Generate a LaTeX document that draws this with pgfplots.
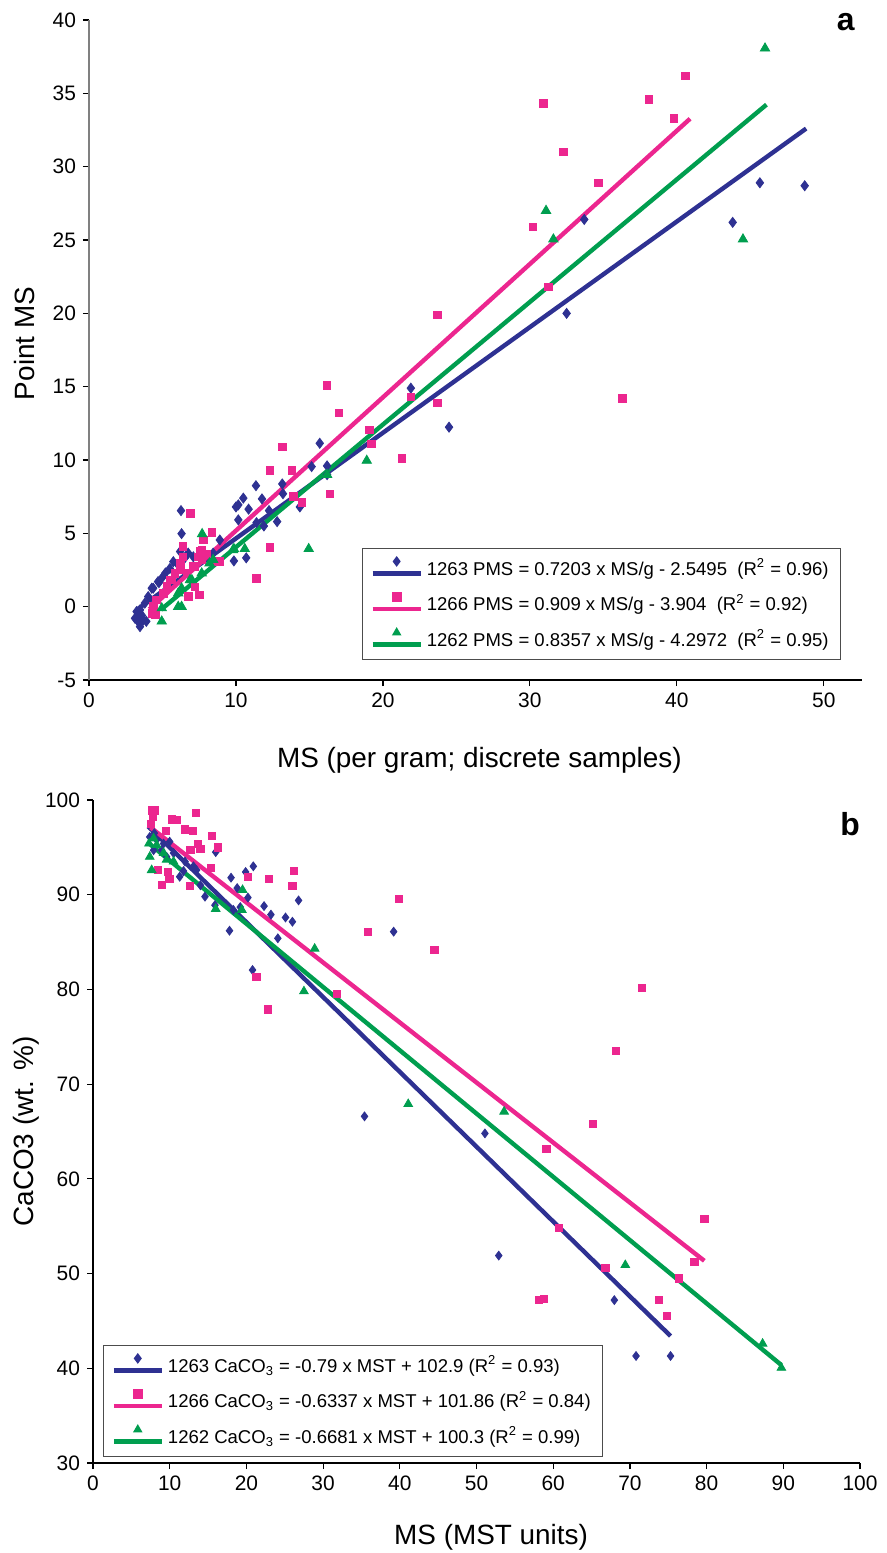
\documentclass[border=0pt]{standalone}
\usepackage{fontspec}
\setmainfont{Liberation Sans}
\usepackage{pgfplots}
\pgfplotsset{compat=1.18}
\definecolor{c1263}{RGB}{46,49,146}
\definecolor{c1266}{RGB}{236,38,143}
\definecolor{c1262}{RGB}{0,158,79}

\pgfplotsset{
  excel/.style={
    scale only axis,
    axis lines=left,
    axis line style={-, black, line width=0.6bp},
    tick align=outside,
    major tick length=3bp,
    tick style={black, line width=0.6bp},
    /pgf/number format/assume math mode=true,
    ticklabel style={font=\fontsize{10.5}{12}\selectfont},
    label style={font=\fontsize{14}{16}\selectfont},
    legend cell align=left,
    legend style={font=\fontsize{9.3}{11}\selectfont, draw=black!70, line width=0.6bp,
      inner xsep=4bp, inner ysep=3bp, row sep=4bp, anchor=north west},
    clip=false,
  },
  lgd/.style n args={2}{legend image code/.code={
      \draw[#1, line width=2.2bp] (0bp,-2.5bp) -- (24bp,-2.5bp);
      \draw[#1] plot[only marks, mark=#2, mark size=2.2bp] coordinates {(12bp,3.5bp)};
  }},
}

\begin{document}
\begin{tikzpicture}
\path[use as bounding box] (0,0) rectangle (443.5bp,-776.5bp);

% ---------------- panel a ----------------
\begin{axis}[excel, at={(44.5bp,-340bp)}, anchor=south west,
  width=386.5bp, height=330bp,
  xmin=0, xmax=52.6, ymin=-5, ymax=40,
  xtick={0,10,...,50}, ytick={-5,0,...,40},
  y axis line style={gray},
  xlabel={MS (per gram; discrete samples)}, ylabel={Point MS},
  xlabel style={at={(axis description cs:0.505,-0.121)}, anchor=center},
  ylabel style={at={(axis description cs:-0.083,0.51)}, anchor=center},
  legend style={at={(0.353,0.2)}},
]
\addplot[only marks, mark=diamond*, c1263, mark size=2.5bp, lgd={c1263}{diamond*}] table {
48.7 28.7
45.65 28.9
43.8 26.2
33.7 26.4
32.5 20.0
21.9 14.9
24.5 12.24
15.7 11.14
16.2 9.6
15.15 9.55
13.15 8.37
13.2 7.7
11.36 8.25
11.77 7.35
10.5 7.4
10.16 6.94
10.0 6.8
10.86 6.65
12.25 6.55
14.35 6.8
10.16 5.92
11.4 5.73
6.26 6.55
6.3 4.98
8.9 4.55
9.86 3.12
10.7 3.33
16.2 9.0
6.2 3.76
6.5 3.3
5.74 3.07
4.95 1.94
4.7 1.71
4.37 1.26
4.03 0.69
3.8 0.24
3.47 -0.22
3.35 -0.56
3.47 -1.13
3.13 -0.79
3.7 -0.9
3.24 -0.33
8.45 3.65
6.75 3.65
7.1 3.4
6.07 2.85
4.76 1.64
4.27 1.26
3.47 -0.45
3.24 -0.79
3.47 -1.36
3.35 -1.02
5.2 2.3
5.5 2.6
3.6 -0.6
3.9 -1.0
12.8 5.8
11.9 5.5
};
\addlegendentry{1263 PMS = 0.7203 x MS/g - 2.5495\ \ (R\textsuperscript{2} = 0.96)}
\addplot[only marks, mark=square*, c1266, mark size=1.9bp, lgd={c1266}{square*}] table {
40.6 36.2
30.9 34.3
38.1 34.6
39.8 33.3
32.3 31.0
34.65 28.9
30.2 25.9
31.25 21.8
23.7 19.9
16.2 15.07
36.3 14.2
17.0 13.2
21.9 14.3
23.7 13.9
19.1 12.05
19.2 11.1
21.3 10.1
13.15 10.9
12.3 9.3
13.8 9.3
16.4 7.7
14.5 7.1
13.9 7.5
6.9 6.35
12.3 4.05
11.4 1.94
8.35 5.05
7.8 4.55
6.4 4.1
7.55 3.76
7.67 3.2
7.2 2.73
6.65 2.28
6.2 2.5
5.85 2.28
5.5 1.82
5.3 1.37
5.05 0.92
4.6 0.46
4.37 0.0
4.27 -0.45
4.5 -0.56
6.75 0.69
7.5 0.8
8.7 3.07
6.4 3.4
8.0 3.6
5.63 1.82
6.2 2.96
7.44 3.4
7.67 3.87
7.1 2.73
7.2 1.36
8.9 3.07
};
\addlegendentry{1266 PMS = 0.909 x MS/g - 3.904\ \ (R\textsuperscript{2} = 0.92)}
\addplot[only marks, mark=triangle*, c1262, mark size=2.7bp, lgd={c1262}{triangle*}] table {
46.0 38.07
31.1 27.0
44.5 25.05
31.6 25.05
18.9 9.96
16.2 9.0
14.95 3.94
10.6 3.94
9.86 3.94
7.7 4.96
7.0 1.82
6.3 1.26
6.07 0.0
6.3 0.0
4.95 -1.0
4.95 -0.1
8.45 3.2
7.67 2.28
8.2 2.96
6.87 1.82
6.07 0.92
9.8 3.87
};
\addlegendentry{1262 PMS = 0.8357 x MS/g - 4.2972\ \ (R\textsuperscript{2} = 0.95)}
\addplot[c1263, line width=2.2bp, forget plot] coordinates {(3.3,-0.173) (48.8,32.60)};
\addplot[c1266, line width=2.2bp, forget plot] coordinates {(4.1,-0.177) (40.9,33.27)};
\addplot[c1262, line width=2.2bp, forget plot] coordinates {(4.9,-0.202) (46.1,34.23)};
\node[font=\fontsize{16}{18}\selectfont\bfseries] at (axis description cs:0.979,0.997) {a};
\end{axis}

% ---------------- panel b ----------------
\begin{axis}[excel, at={(46.5bp,-731.5bp)}, anchor=south west,
  width=383.5bp, height=331.5bp,
  xmin=0, xmax=100, ymin=30, ymax=100,
  xtick={0,10,...,100}, ytick={30,40,...,100},
  xlabel={MS (MST units)}, ylabel={CaCO3 (wt. \%)},
  xlabel style={at={(axis description cs:0.519,-0.112)}, anchor=center},
  ylabel style={at={(axis description cs:-0.087,0.5)}, anchor=center},
  legend style={at={(0.013,0.178)}},
]
\addplot[only marks, mark=diamond*, c1263, mark size=2.2bp, lgd={c1263}{diamond*}] table {
7.4 96.1
8.3 95.8
9.2 95.4
10.0 95.6
8.95 94.7
7.9 94.7
10.5 94.4
12.0 93.5
13.1 93.0
11.3 91.9
16.0 94.5
20.9 93.0
19.9 92.4
18.0 91.8
18.8 90.7
20.2 89.7
26.8 89.4
22.3 88.8
23.2 87.9
25.1 87.6
26.0 87.15
24.1 85.4
17.8 86.2
14.6 89.8
15.9 88.9
18.3 88.4
19.2 88.7
20.8 82.05
39.2 86.1
35.4 66.6
51.1 64.8
52.9 51.9
67.97 47.2
70.8 41.3
75.3 41.3
8.0 96.5
9.6 94.0
11.8 92.5
13.5 92.6
14.0 91.0
};
\addlegendentry{1263 CaCO\textsubscript{3} = -0.79 x MST + 102.9 (R\textsuperscript{2} = 0.93)}
\addplot[only marks, mark=square*, c1266, mark size=1.8bp, lgd={c1266}{square*}] table {
7.65 98.9
8.1 98.9
7.5 97.5
7.8 98.2
10.26 97.96
10.9 97.9
13.4 98.6
9.5 96.76
12.0 96.9
13.0 96.76
15.55 96.2
13.65 95.4
14.0 94.8
16.3 95.0
12.7 94.7
8.5 92.6
9.8 92.4
9.95 91.7
8.95 91.0
12.65 90.9
15.4 92.8
20.2 91.9
22.95 91.66
26.2 92.5
26.0 90.9
21.3 81.3
22.8 77.9
31.8 79.5
39.9 89.6
35.8 86.1
44.5 84.2
71.6 80.2
68.2 73.5
65.2 65.8
59.1 63.2
60.7 54.8
79.7 55.8
78.4 51.2
66.8 50.6
76.35 49.5
58.1 47.2
58.8 47.3
73.8 47.2
74.85 45.5
};
\addlegendentry{1266 CaCO\textsubscript{3} = -0.6337 x MST + 101.86 (R\textsuperscript{2} = 0.84)}
\addplot[only marks, mark=triangle*, c1262, mark size=2.5bp, lgd={c1262}{triangle*}] table {
7.65 92.6
7.4 94.0
7.3 95.4
7.9 95.95
9.2 94.4
9.6 93.7
19.5 90.5
16.0 88.5
19.4 88.4
28.9 84.3
27.5 79.8
41.1 67.9
53.6 67.1
69.4 50.9
87.3 42.6
89.75 40.05
8.3 95.25
10.5 93.5
};
\addlegendentry{1262 CaCO\textsubscript{3} = -0.6681 x MST + 100.3 (R\textsuperscript{2} = 0.99)}
\addplot[c1263, line width=2.2bp, forget plot] coordinates {(7.2,97.21) (75.3,43.41)};
\addplot[c1266, line width=2.2bp, forget plot] coordinates {(7.5,97.11) (79.7,51.35)};
\addplot[c1262, line width=2.2bp, forget plot] coordinates {(7.3,95.42) (89.75,40.34)};
\node[font=\fontsize{16}{18}\selectfont\bfseries] at (axis description cs:0.987,0.964) {b};
\end{axis}
\end{tikzpicture}
\end{document}
